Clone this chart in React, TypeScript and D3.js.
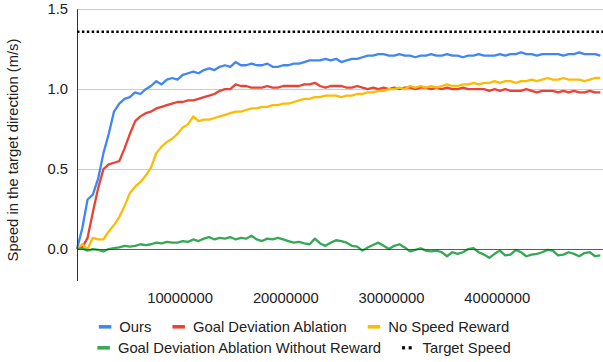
import React, { useEffect, useRef } from 'react'
import * as d3 from 'd3'

// training steps, one reading every 500k steps
const steps = d3.range(250000, 50000000, 500000)

const ours = [
  0.0, 0.13, 0.31, 0.34, 0.44, 0.60, 0.72, 0.86, 0.91, 0.94,
  0.95, 0.98, 0.97, 1.00, 1.02, 1.05, 1.03, 1.06, 1.07, 1.06,
  1.09, 1.10, 1.11, 1.10, 1.12, 1.13, 1.12, 1.14, 1.15, 1.14,
  1.17, 1.15, 1.15, 1.16, 1.15, 1.15, 1.16, 1.14, 1.14, 1.15,
  1.15, 1.16, 1.16, 1.17, 1.18, 1.18, 1.18, 1.19, 1.18, 1.19,
  1.17, 1.18, 1.19, 1.19, 1.20, 1.21, 1.21, 1.22, 1.22, 1.21,
  1.21, 1.22, 1.21, 1.21, 1.20, 1.21, 1.21, 1.22, 1.21, 1.21,
  1.22, 1.21, 1.21, 1.20, 1.21, 1.21, 1.22, 1.21, 1.21, 1.21,
  1.22, 1.21, 1.22, 1.22, 1.23, 1.22, 1.22, 1.21, 1.22, 1.22,
  1.22, 1.22, 1.21, 1.22, 1.22, 1.23, 1.22, 1.22, 1.22, 1.21
]

const goalDeviationAblation = [
  0.0, 0.01, 0.07, 0.23, 0.38, 0.50, 0.53, 0.54, 0.55, 0.63,
  0.72, 0.80, 0.83, 0.85, 0.86, 0.88, 0.89, 0.90, 0.91, 0.92,
  0.92, 0.93, 0.93, 0.94, 0.95, 0.96, 0.97, 0.99, 1.00, 1.00,
  1.03, 1.02, 1.02, 1.01, 1.01, 1.01, 1.02, 1.01, 1.01, 1.02,
  1.02, 1.02, 1.02, 1.03, 1.03, 1.04, 1.02, 1.01, 1.02, 1.02,
  1.02, 1.01, 1.01, 1.02, 1.01, 1.00, 1.01, 1.00, 1.01, 1.00,
  1.01, 1.00, 1.01, 1.01, 1.00, 1.01, 1.01, 1.00, 1.01, 1.00,
  1.01, 1.00, 1.00, 1.01, 1.00, 1.00, 1.00, 1.00, 0.99, 1.00,
  0.99, 1.00, 0.99, 0.99, 0.99, 1.00, 0.99, 0.98, 0.99, 0.99,
  0.99, 0.98, 0.99, 0.98, 0.99, 0.98, 0.98, 0.99, 0.98, 0.98
]

const noSpeedReward = [
  0.0, 0.03, 0.0, 0.07, 0.06, 0.06, 0.11, 0.15, 0.20, 0.27,
  0.35, 0.39, 0.42, 0.46, 0.51, 0.60, 0.64, 0.67, 0.69, 0.72,
  0.76, 0.78, 0.83, 0.80, 0.81, 0.81, 0.82, 0.83, 0.84, 0.85,
  0.86, 0.86, 0.87, 0.88, 0.88, 0.89, 0.89, 0.90, 0.90, 0.91,
  0.91, 0.92, 0.93, 0.94, 0.94, 0.95, 0.95, 0.96, 0.96, 0.96,
  0.95, 0.96, 0.96, 0.97, 0.97, 0.98, 0.98, 0.99, 0.99, 1.00,
  1.00, 1.01, 1.00, 1.02, 1.01, 1.02, 1.01, 1.02, 1.01, 1.02,
  1.03, 1.02, 1.02, 1.03, 1.03, 1.04, 1.03, 1.04, 1.04, 1.05,
  1.04, 1.05, 1.05, 1.04, 1.05, 1.05, 1.06, 1.05, 1.06, 1.07,
  1.06, 1.06, 1.07, 1.06, 1.06, 1.06, 1.05, 1.06, 1.07, 1.07
]

const withoutReward = [
  0.0, 0.005, -0.01, 0.0, -0.005, -0.015, 0.0, 0.005, 0.01, 0.02,
  0.015, 0.02, 0.03, 0.025, 0.03, 0.04, 0.035, 0.045, 0.04, 0.04,
  0.05, 0.045, 0.06, 0.05, 0.065, 0.075, 0.06, 0.07, 0.065, 0.075,
  0.06, 0.07, 0.065, 0.083, 0.06, 0.05, 0.065, 0.06, 0.07, 0.06,
  0.05, 0.04, 0.045, 0.035, 0.03, 0.065, 0.035, 0.02, 0.04, 0.055,
  0.05, 0.04, 0.02, 0.015, -0.01, 0.01, 0.025, 0.04, 0.02, 0.0,
  0.02, 0.03, 0.01, -0.015, -0.005, 0.005, -0.01, -0.015, -0.01, -0.02,
  -0.045, -0.02, -0.03, -0.02, 0.0, 0.006, -0.02, -0.035, -0.055, -0.03,
  -0.01, -0.04, -0.035, -0.005, -0.02, -0.045, -0.035, -0.03, -0.02, -0.005,
  -0.01, -0.04, -0.035, -0.02, -0.03, -0.045, -0.025, -0.02, -0.045, -0.04
]

const targetSpeed = 1.36

const seriesNames = ['Ours', 'Goal Deviation Ablation', 'No Speed Reward', 'Goal Deviation Ablation Without Reward']
const seriesColors = ['#4285f4', '#ea4335', '#fbbc04', '#34a853']
const yTicks = [0, 0.5, 1.0, 1.5]
const xTicks = [10000000, 20000000, 30000000, 40000000]

const FONT = '"Liberation Sans", Arial, sans-serif'
const FS = 14.8

export default function App() {
  const ref = useRef<SVGSVGElement>(null)

  useEffect(() => {
    const svg = d3.select(ref.current)
    svg.selectAll('*').remove()

    const x = d3.scaleLinear().domain([250000, 50000000]).range([77, 603])
    const y = d3.scaleLinear().domain([-0.2, 1.5]).range([281, 9.3])

    // gridlines
    svg.append('g').selectAll('line')
      .data(yTicks.filter(d => d !== 0))
      .enter().append('line')
      .attr('x1', 77).attr('x2', 603)
      .attr('y1', d => Math.round(y(d)) + 0.5).attr('y2', d => Math.round(y(d)) + 0.5)
      .attr('stroke', '#cccccc')

    // y tick labels
    svg.append('g').selectAll('text')
      .data(yTicks)
      .enter().append('text')
      .attr('x', 68).attr('y', d => y(d) + 5)
      .attr('text-anchor', 'end')
      .attr('font-family', FONT).attr('font-size', FS).attr('fill', '#222')
      .text(d => d3.format('.1f')(d))

    // x tick labels
    svg.append('g').selectAll('text')
      .data(xTicks)
      .enter().append('text')
      .attr('x', d => x(d)).attr('y', 303)
      .attr('text-anchor', 'middle')
      .attr('font-family', FONT).attr('font-size', FS).attr('fill', '#222')
      .text(d => String(d))

    // y axis title
    svg.append('text')
      .attr('transform', 'translate(18,150) rotate(-90)')
      .attr('text-anchor', 'middle')
      .attr('font-family', FONT).attr('font-size', FS).attr('fill', '#222')
      .text('Speed in the target direction (m/s)')

    // series lines
    const all = [ours, goalDeviationAblation, noSpeedReward, withoutReward]
    const line = d3.line<number>()
      .x((d, i) => x(steps[i]))
      .y(d => y(d))
    all.forEach((vals, k) => {
      svg.append('path')
        .attr('d', line(vals))
        .attr('fill', 'none')
        .attr('stroke', seriesColors[k])
        .attr('stroke-width', 2.3)
        .attr('stroke-linejoin', 'round')
    })

    // zero line + y axis line
    svg.append('line')
      .attr('x1', 77).attr('x2', 603)
      .attr('y1', Math.round(y(0)) + 0.5).attr('y2', Math.round(y(0)) + 0.5)
      .attr('stroke', '#333').attr('stroke-opacity', 0.8)
    svg.append('line')
      .attr('x1', 77.5).attr('x2', 77.5)
      .attr('y1', y(1.5)).attr('y2', 281)
      .attr('stroke', '#333')

    // target speed
    svg.append('line')
      .attr('x1', 77).attr('x2', 603)
      .attr('y1', y(targetSpeed)).attr('y2', y(targetSpeed))
      .attr('stroke', '#000')
      .attr('stroke-width', 2.5)
      .attr('stroke-dasharray', '2.5,2.4')

    // legend, two centred rows
    const rows = [
      [0, 1, 2],
      [3, 4]
    ]
    const rowY = [327, 348]
    const names = [...seriesNames, 'Target Speed']
    rows.forEach((items, r) => {
      const g = svg.append('g')
      let cx = 0
      items.forEach(k => {
        if (k < 4) {
          g.append('rect')
            .attr('x', cx).attr('y', rowY[r] - 2)
            .attr('width', 12.5).attr('height', 3.6)
            .attr('fill', seriesColors[k])
        } else {
          g.append('rect').attr('x', cx).attr('y', rowY[r] - 1.8).attr('width', 3).attr('height', 3.2).attr('fill', '#000')
          g.append('rect').attr('x', cx + 6.6).attr('y', rowY[r] - 1.8).attr('width', 3).attr('height', 3.2).attr('fill', '#000')
        }
        const t = g.append('text')
          .attr('x', cx + 20.5).attr('y', rowY[r] + 5)
          .attr('font-family', FONT).attr('font-size', FS).attr('fill', '#222')
          .text(names[k])
        const w = (t.node() as SVGTextElement).getComputedTextLength()
        cx += 20.5 + w + 21
      })
      const total = cx - 21
      g.attr('transform', `translate(${304 - total / 2},0)`)
    })
  }, [])

  return (
    <div style={{ position: 'absolute', left: 0, top: 0 }}>
      <svg ref={ref} width={603} height={362} style={{ display: 'block', background: '#fff' }} />
    </div>
  )
}
